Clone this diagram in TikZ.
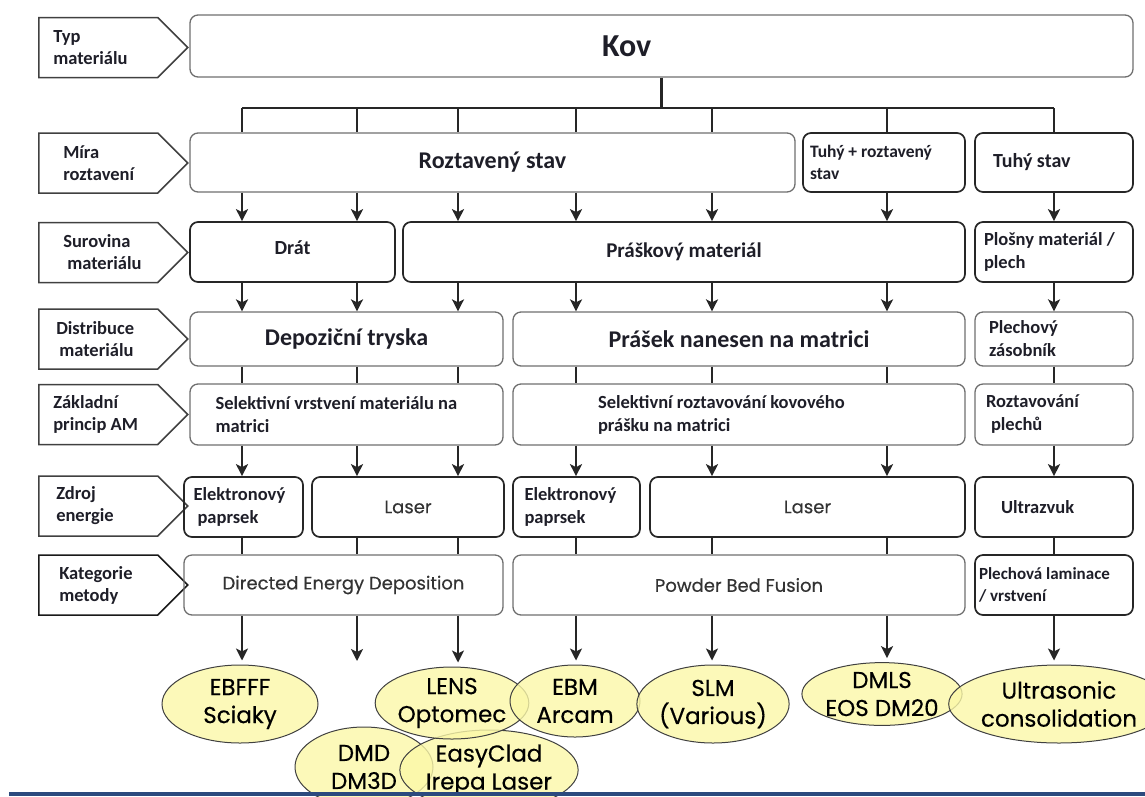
\documentclass[tikz,border=0pt]{standalone}
\usepackage{fontspec}
\setmainfont{Carlito}
\newfontfamily\comicfont{Poppins}[FakeBold=0.4]
\usetikzlibrary{shapes.geometric,shapes.symbols,arrows.meta}

\definecolor{framegray}{HTML}{6E6E6E}
\definecolor{inkblack}{HTML}{1E1E28}
\definecolor{comicgray}{HTML}{333333}
\definecolor{ovalyellow}{HTML}{FBF8A8}
\definecolor{barblue}{HTML}{2C4A7E}

\begin{document}
\begin{tikzpicture}[x=1pt,y=1pt,yscale=-1,
    box/.style={draw=framegray, line width=1.3pt, rounded corners=8pt, inner sep=0pt,
        text=inkblack, font=\bfseries\fontsize{18.5}{23}\selectfont},
    boxd/.style={box, draw=black!85, line width=1.7pt},
    bighead/.style={font=\bfseries\fontsize{24}{28}\selectfont},
    comic/.style={text=comicgray, font=\comicfont\fontsize{18}{22}\selectfont},
    tag/.style={signal, signal to=east, signal pointer angle=90, draw=black!75, line width=1.5pt,
        minimum width=149pt, minimum height=60pt, text width=90pt, inner xsep=14pt, inner ysep=0pt,
        align=flush left, anchor=west, text=inkblack, font=\bfseries\fontsize{18.5}{22}\selectfont},
    oval/.style={ellipse, draw=black!75, line width=1pt, fill=ovalyellow, fill opacity=0.8,
        text opacity=1, inner sep=0pt, align=center, font=\comicfont\fontsize{23}{28}\selectfont},
    line/.style={draw=black!85, line width=2.2pt},
    arr/.style={line, -{Stealth[length=12pt,width=12pt,inset=3pt]}},
]
\useasboundingbox (0,0) rectangle (1145,796);

% columns of the connectors
\coordinate (c1) at (242,108);
\coordinate (c2) at (357,108);
\coordinate (c3) at (458,108);
\coordinate (c4) at (576,108);
\coordinate (c5) at (712,108);
\coordinate (c6) at (887,108);
\coordinate (c7) at (1054,108);

% left tags
\node[tag] (t1) at (38,47.5) {Typ\\materiálu};
\node[tag] (t2) at (38,163) {\hspace*{10pt}Míra\\\hspace*{10pt}roztavení};
\node[tag] (t3) at (38,252.5) {\hspace*{10pt}Surovina\\\hspace*{14pt}materiálu};
\node[tag] (t4) at (38,339) {\hspace*{3pt}Distribuce\\\hspace*{6pt}materiálu};
\node[tag] (t5) at (38,414.5) {Základní\\princip AM};
\node[tag] (t6) at (38,506) {\hspace*{3pt}Zdroj\\\hspace*{3pt}energie};
\node[tag, draw=black!90] (t7) at (38,585) {\hspace*{6pt}Kategorie\\\hspace*{6pt}metody};

% row 1
\node[box, minimum width=943pt, minimum height=62pt, text width=119pt, align=flush left,
    font=\bfseries\fontsize{32}{36}\selectfont] (kov) at (661.5,46) {\raisebox{-6pt}{Kov}};

% row 2
\node[box, bighead, minimum width=605pt, minimum height=59pt] (roztaveny) at (492.5,162.5) {Roztavený stav};
\node[boxd, minimum width=162pt, minimum height=59pt, text width=148pt, align=flush left,
    font=\bfseries\fontsize{17.5}{22}\selectfont] (tuhyroz) at (884,162.5) {Tuhý + roztavený\\stav};
\node[boxd, minimum width=158pt, minimum height=59pt, text width=122pt, align=flush left,
    font=\bfseries\fontsize{20}{24}\selectfont] (tuhy) at (1054,162.5) {Tuhý stav};

% row 3
\node[boxd, minimum width=205pt, minimum height=60pt, font=\bfseries\fontsize{20}{24}\selectfont] (drat) at (292.5,252) {\raisebox{8pt}{Drát}};
\node[boxd, minimum width=562pt, minimum height=60pt, font=\bfseries\fontsize{21}{24}\selectfont] (praskovy) at (684,252) {\raisebox{-3pt}{Práškový materiál}};
\node[boxd, minimum width=158pt, minimum height=60pt, text width=140pt, align=flush left] (plosny) at (1054,252) {Plošny materiál /\\plech};

% row 4
\node[box, bighead, minimum width=313pt, minimum height=54pt] (tryska) at (346.5,339) {Depoziční tryska};
\node[box, bighead, minimum width=452pt, minimum height=54pt] (nanesen) at (739,339) {Prášek nanesen na matrici};
\node[box, minimum width=158pt, minimum height=54pt, text width=130pt, align=flush left] (zasobnik) at (1054,339) {Plechový\\zásobník};

% row 5
\node[box, minimum width=313pt, minimum height=61pt, text width=262pt, align=flush left] (vrstveni) at (346.5,414.5) {Selektivní vrstvení materiálu na\\matrici};
\node[box, minimum width=452pt, minimum height=61pt, text width=282pt, align=flush left] (roztavovani) at (739,414.5) {Selektivní roztavování kovového\\prášku na matrici};
\node[box, minimum width=158pt, minimum height=61pt, text width=136pt, align=flush left] (plechu) at (1054,414.5) {Roztavování\\\hspace*{5pt}plechů};

% row 6
\node[boxd, minimum width=119pt, minimum height=60pt, text width=100pt, align=flush left] (ebeam1) at (243.5,507) {Elektronový\\\hspace*{4pt}paprsek};
\node[boxd, comic, minimum width=192pt, minimum height=60pt] (laser1) at (408,507) {Laser};
\node[boxd, minimum width=127pt, minimum height=60pt, text width=104pt, align=flush left] (ebeam2) at (576.5,507) {Elektronový\\paprsek};
\node[boxd, comic, minimum width=315pt, minimum height=60pt] (laser2) at (807.5,507) {Laser};
\node[boxd, minimum width=158pt, minimum height=60pt, text width=106pt, align=flush left] (ultrazvuk) at (1054,507) {Ultrazvuk};

% row 7
\node[box, comic, minimum width=319pt, minimum height=60pt] (ded) at (343.5,585) {Directed Energy Deposition};
\node[box, comic, minimum width=452pt, minimum height=60pt] (pbf) at (739,585) {Powder Bed Fusion};
\node[boxd, minimum width=158pt, minimum height=60pt, text width=150pt, align=flush left,
    font=\bfseries\fontsize{17}{22}\selectfont] (laminace) at (1054,585) {Plechová laminace\\/ vrstvení};

% processes
\node[oval, minimum width=156pt, minimum height=78pt] (ebfff) at (240,704) {EBFFF\\Sciaky};
\node[oval, minimum width=138pt, minimum height=80pt] (dmd) at (364,767) {DMD\\DM3D};
\node[oval, minimum width=148pt, minimum height=80pt] (easyclad) at (489,770) {EasyClad\\Irepa Laser};
\node[oval, minimum width=144pt, minimum height=72pt] (lens) at (452,703) {LENS\\Optomec};
\node[oval, minimum width=130pt, minimum height=72pt] (ebm) at (575,701) {EBM\\Arcam};
\node[oval, minimum width=143pt, minimum height=78pt] (slm) at (713,704) {SLM\\(Various)};
\node[oval, minimum width=155pt, minimum height=57pt] (dmls) at (882,694) {DMLS\\EOS DM20};
\node[oval, minimum width=172pt, minimum height=78pt] (ultra) at (1059,704) {Ultrasonic\\consolidation};
\coordinate (free) at (357,661);

% tree from Kov
\draw[line] (kov.south) -- (kov.south |- c1);
\draw[line] (c1) -- (c7);
\foreach \c/\n in {c1/roztaveny,c2/roztaveny,c3/roztaveny,c4/roztaveny,c5/roztaveny,c6/tuhyroz,c7/tuhy}
    \draw[line] (\c) -- (\c |- \n.north);

% row 2 -> row 3
\foreach \c/\a/\b in {c1/roztaveny/drat,c2/roztaveny/drat,c3/roztaveny/praskovy,c4/roztaveny/praskovy,
    c5/roztaveny/praskovy,c6/tuhyroz/praskovy,c7/tuhy/plosny}
    \draw[arr] (\a.south -| \c) -- (\b.north -| \c);

% row 3 -> row 4
\foreach \c/\a/\b in {c1/drat/tryska,c2/drat/tryska,c3/praskovy/tryska,c4/praskovy/nanesen,
    c5/praskovy/nanesen,c6/praskovy/nanesen,c7/plosny/zasobnik}
    \draw[arr] (\a.south -| \c) -- (\b.north -| \c);

% row 4 -> row 5
\foreach \c/\a/\b in {c1/tryska/vrstveni,c2/tryska/vrstveni,c3/tryska/vrstveni,c4/nanesen/roztavovani,
    c5/nanesen/roztavovani,c6/nanesen/roztavovani,c7/zasobnik/plechu}
    \draw[line] (\a.south -| \c) -- (\b.north -| \c);

% row 5 -> row 6
\foreach \c/\a/\b in {c1/vrstveni/ebeam1,c2/vrstveni/laser1,c3/vrstveni/laser1,c4/roztavovani/ebeam2,
    c5/roztavovani/laser2,c6/roztavovani/laser2,c7/plechu/ultrazvuk}
    \draw[arr] (\a.south -| \c) -- (\b.north -| \c);

% row 6 -> row 7
\foreach \c/\a/\b in {c1/ebeam1/ded,c2/laser1/ded,c3/laser1/ded,c4/ebeam2/pbf,
    c5/laser2/pbf,c6/laser2/pbf,c7/ultrazvuk/laminace}
    \draw[line] (\a.south -| \c) -- (\b.north -| \c);

% row 7 -> processes
\foreach \c/\a/\b in {c1/ded/ebfff,c3/ded/lens,c4/pbf/ebm,c5/pbf/slm,c6/pbf/dmls,c7/laminace/ultra}
    \draw[arr, shorten >=4pt] (\a.south -| \c) -- (\b.north -| \c);
\draw[arr] (ded.south -| free) -- (free);

% bottom bar
\fill[barblue] (9,792) rectangle (1145,796);
\end{tikzpicture}
\end{document}
